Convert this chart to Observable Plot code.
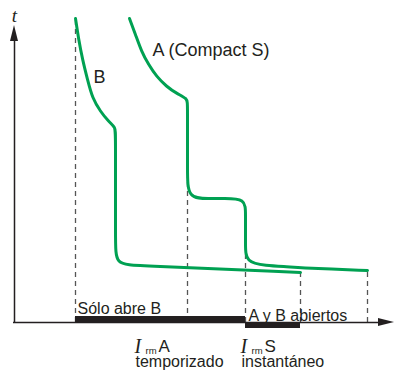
<!DOCTYPE html>
<html>
<head>
<meta charset="utf-8">
<script src="https://cdn.jsdelivr.net/npm/d3@7"></script>
<script src="https://cdn.jsdelivr.net/npm/@observablehq/plot@0.6"></script>
<style>
  html, body { margin: 0; padding: 0; background: #fff; }
  svg { display: block; }
</style>
</head>
<body>
<script>
// Curve B (current I, time t), schematic units
const curveB_I = [61, 64, 68, 73, 78, 86, 94, 101, 101, 101, 101, 122, 286];
const curveB_t = [304, 284, 263, 243, 224, 211, 201, 195, 189, 80, 58, 57, 50];

// Curve A (Compact S)
const curveA_I = [115, 121, 127, 134, 142, 152, 162, 173, 173, 173, 173, 195, 209, 231, 231, 231, 231, 252, 270, 300, 353];
const curveA_t = [304, 288, 271, 258, 246, 236, 229, 224, 218, 150, 124, 124, 124, 124, 109, 78, 60, 57, 56, 54, 52];

// Dashed reference lines: current value and top time
const guideI = [61, 173, 231, 286, 353];
const guideTop = [304, 145, 77, 50, 52];

// Zones on the current axis
const zoneStart = [61, 231];
const zoneEnd = [231, 286];
const zoneLow = [-1, -6];
const zoneHigh = [6, 0];
const zoneLabels = ["Sólo abre B", "A y B abiertos"];
const zoneLabelI = [63, 234];
const zoneLabelT = [9, 2];

// Curve names
const curveNames = ["B", "A (Compact S)"];
const curveNameI = [79, 138];
const curveNameT = [240, 267];

// Irm tick labels
const irmI = [120, 226];
const irmNames = ["A", "S"];
const irmSub = ["temporizado", "instantáneo"];

// Axis extents
const axisIMax = 366, axisTMax = 284;
const arrowX = [{x: 364, y1: -4, y2: 4}, {x: 380, y1: 0, y2: 0}];
const arrowY = [{y: 281, x1: -4, x2: 4}, {y: 297, x1: 0, x2: 0}];

const B = curveB_I.map((I, i) => ({I, t: curveB_t[i]}));
const A = curveA_I.map((I, i) => ({I, t: curveA_t[i]}));
const guides = guideI.map((I, i) => ({I, top: guideTop[i]}));
const zones = zoneStart.map((s, i) => ({s, e: zoneEnd[i], lo: zoneLow[i], hi: zoneHigh[i]}));
const zoneText = zoneLabels.map((label, i) => ({label, I: zoneLabelI[i], t: zoneLabelT[i]}));
const names = curveNames.map((label, i) => ({label, I: curveNameI[i], t: curveNameT[i]}));
const irm = irmI.map((I, i) => ({I, name: irmNames[i], sub: irmSub[i]}));

const green = "#00a152";
const ink = "#231f20";
const sans = "'Liberation Sans', Arial, Helvetica, sans-serif";
const serif = "'Liberation Serif', 'Times New Roman', serif";

const chart = Plot.plot({
  width: 395,
  height: 370,
  marginLeft: 14,
  marginRight: 0,
  marginTop: 0,
  marginBottom: 48,
  x: {domain: [0, 381], axis: null},
  y: {domain: [0, 322], axis: null},
  style: {background: "white", fontFamily: sans, color: ink},
  marks: [
    // dashed guides
    Plot.ruleX(guides, {x: "I", y1: 0, y2: "top", stroke: "#555", strokeWidth: 1.3, strokeDasharray: "5,4"}),
    // axes
    Plot.ruleY([0], {x1: -1, x2: axisIMax, stroke: ink, strokeWidth: 1.5}),
    Plot.ruleX([0], {y1: 0, y2: axisTMax, stroke: ink, strokeWidth: 1.5}),
    Plot.area(arrowX, {x1: "x", y1: "y1", y2: "y2", fill: ink}),
    Plot.area(arrowY, {y1: "y", x1: "x1", x2: "x2", fill: ink}),
    // zone bars
    Plot.rect(zones, {x1: "s", x2: "e", y1: "lo", y2: "hi", fill: ink}),
    // curves
    Plot.line(B, {x: "I", y: "t", curve: "basis", stroke: green, strokeWidth: 3, strokeLinecap: "round", strokeLinejoin: "round"}),
    Plot.line(A, {x: "I", y: "t", curve: "basis", stroke: green, strokeWidth: 3, strokeLinecap: "round", strokeLinejoin: "round"}),
    // texts
    Plot.text(names, {x: "I", y: "t", text: "label", textAnchor: "start", lineAnchor: "bottom", fontSize: 18, fill: ink}),
    Plot.text(zoneText, {x: "I", y: "t", text: "label", textAnchor: "start", lineAnchor: "bottom", fontSize: 16, fill: ink}),
    Plot.text(["t"], {x: 0, y: 301, text: d => d, textAnchor: "middle", lineAnchor: "bottom", fontSize: 19, fontStyle: "italic", fontFamily: serif, fill: ink}),
    Plot.text(irm, {x: "I", y: -30, text: () => "I", textAnchor: "start", lineAnchor: "bottom", fontSize: 20, fontStyle: "italic", fontFamily: serif, fill: ink}),
    Plot.text(irm, {x: "I", y: -31, dx: 11, text: () => "rm", textAnchor: "start", lineAnchor: "bottom", fontSize: 9.5, fill: ink}),
    Plot.text(irm, {x: "I", y: -29, dx: 24, text: "name", textAnchor: "start", lineAnchor: "bottom", fontSize: 17, fill: ink}),
    Plot.text(irm, {x: "I", y: -44, dx: 1, text: "sub", textAnchor: "start", lineAnchor: "bottom", fontSize: 16, fill: ink})
  ]
});
document.body.appendChild(chart);
</script>
</body>
</html>
